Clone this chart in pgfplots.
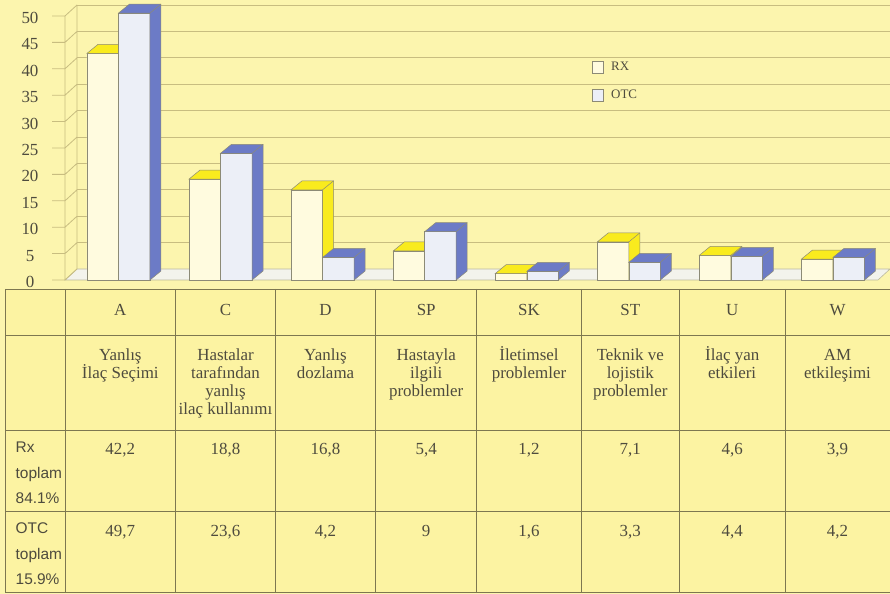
\documentclass[border=0pt]{standalone}
\usepackage{pgfplots}
\pgfplotsset{compat=1.18}
\usepackage{pgfplotstable}
\usepackage{fontspec}
\setmainfont{Liberation Serif}
\newfontfamily\sansf{Liberation Sans}
\definecolor{bg}{HTML}{FCF5AE}
\definecolor{tablebg}{HTML}{FCF3A2}
\definecolor{gridcol}{HTML}{C8BD80}
\definecolor{tline}{HTML}{7D7750}
\definecolor{txt}{HTML}{4E4B3E}
\definecolor{floorcol}{HTML}{F3F3EC}
\definecolor{flooredge}{HTML}{BDBA9C}
\definecolor{rxfront}{HTML}{FFFBDF}
\definecolor{rxside}{HTML}{F9EB1E}
\definecolor{otcfront}{HTML}{ECEFF7}
\definecolor{otcside}{HTML}{6C7BC6}
\definecolor{edgecol}{HTML}{8C8A76}

\pgfplotstableread{
x rx otc
0 42.2 49.7
1 18.8 23.6
2 16.8 4.2
3 5.4 9
4 1.2 1.6
5 7.1 3.3
6 4.6 4.4
7 3.9 4.2
}\data

\pgfplotsset{
  face3d/.style n args={5}{%
    scatter, only marks, mark=*, mark size=0pt,
    mark options={draw=none,fill=none},
    forget plot,
    visualization depends on={\thisrow{#1}\as\barv},
    scatter/@pre marker code/.code={%
      \pgfscope
      \pgfmathsetmacro\hh{\barv*5.37}%
      \pgfmathsetmacro\hb{9-\hh}%
      \pgfmathsetmacro\Rd{#3+11}%
      \pgfmathsetmacro\Ld{#2+11}%
      \pgfsetstrokecolor{edgecol}\pgfsetlinewidth{0.5bp}%
      \pgfsetfillcolor{#5}%
      \pgfpathrectanglecorners{\pgfpoint{#2bp}{0bp}}{\pgfpoint{#3bp}{-\hh bp}}%
      \pgfusepath{fill,stroke}%
      \pgfsetfillcolor{#4}%
      \pgfpathmoveto{\pgfpoint{#2bp}{0bp}}%
      \pgfpathlineto{\pgfpoint{#3bp}{0bp}}%
      \pgfpathlineto{\pgfpoint{#3bp}{-\hh bp}}%
      \pgfpathlineto{\pgfpoint{\Rd bp}{\hb bp}}%
      \pgfpathlineto{\pgfpoint{\Rd bp}{9bp}}%
      \pgfpathlineto{\pgfpoint{\Ld bp}{9bp}}%
      \pgfpathclose
      \pgfusepath{fill,stroke}%
      \pgfpathmoveto{\pgfpoint{#3bp}{0bp}}%
      \pgfpathlineto{\pgfpoint{\Rd bp}{9bp}}%
      \pgfusepath{stroke}%
      \endpgfscope
    },
    scatter/@post marker code/.code={},
  },
  sq legend/.style={legend image code/.code={\draw[##1,/tikz/.cd,line width=0.6bp,draw=edgecol] (0bp,-6bp) rectangle (11bp,6bp);}},
}

\newcommand\tf{\fontsize{17}{18}\selectfont}
\newcommand\rowf{\sansf\fontsize{15.5}{16}\selectfont}

\begin{document}
\begin{tikzpicture}
\path[use as bounding box] (0,0) rectangle (890bp,594bp);
\begin{scope}[x=1bp,y=-1bp,yshift=594bp]
  \fill[bg] (0,0) rectangle (890,594);
  \fill[tablebg] (5,289) rectangle (890,592.5);
\end{scope}

% frame axis: back wall, floor, left wall, ticks
\begin{axis}[
  at={(77bp,325bp)}, anchor=south west,
  x=1bp, y=5.28bp, xmin=0, xmax=813, ymin=0, ymax=50,
  axis line style={draw=none},
  xtick=\empty, ytick={0,5,...,50},
  tick style={draw=none}, major tick length=0pt,
  ymajorgrids, grid style={draw=gridcol, line width=0.8bp},
  /pgf/number format/assume math mode=true,
  yticklabel style={anchor=center, xshift=-47bp, yshift=-13bp, font=\tf, text=txt},
  clip=false, unbounded coords=jump,
]
\addplot[fill=floorcol, draw=flooredge, line width=0.6bp] coordinates {(-12,-2.083) (801,-2.083) (813,0) (0,0)} -- cycle;
\addplot[draw=gridcol, line width=0.8bp] coordinates {
(-25,-2.083) (-12,-2.083) (0,0) (nan,nan)
(-25,2.917) (-12,2.917) (0,5) (nan,nan)
(-25,7.917) (-12,7.917) (0,10) (nan,nan)
(-25,12.917) (-12,12.917) (0,15) (nan,nan)
(-25,17.917) (-12,17.917) (0,20) (nan,nan)
(-25,22.917) (-12,22.917) (0,25) (nan,nan)
(-25,27.917) (-12,27.917) (0,30) (nan,nan)
(-25,32.917) (-12,32.917) (0,35) (nan,nan)
(-25,37.917) (-12,37.917) (0,40) (nan,nan)
(-25,42.917) (-12,42.917) (0,45) (nan,nan)
(-25,47.917) (-12,47.917) (0,50) (nan,nan)
(-12,-2.083) (-12,47.917) (nan,nan)
(0,0) (0,50)
};
\end{axis}

% bars axis
\begin{axis}[
  at={(65bp,314bp)}, anchor=south west,
  x=102.07bp, y=5.37bp, xmin=-0.524, xmax=7.559, ymin=0, ymax=52.14,
  hide axis, clip=false,
  legend style={at={(axis description cs:0.638,0.7857)}, anchor=north west,
    draw=none, fill=none, font=\fontsize{13}{14}\selectfont, text=txt,
    row sep=14bp, column sep=6bp, inner sep=0pt, nodes={inner sep=2bp}},
  legend cell align=left,
]
\addplot[ybar, bar width=31.5bp, bar shift=-15.75bp, fill=rxfront, draw=edgecol, line width=0.5bp, sq legend] table[x=x,y=rx]{\data};
\addlegendentry{RX}
\addplot[face3d={rx}{-31.5}{0}{rxside}{rxfront}] table[x=x,y=rx]{\data};
\addplot[ybar, bar width=31.5bp, bar shift=15.75bp, fill=otcfront, draw=edgecol, line width=0.5bp, sq legend] table[x=x,y=otc]{\data};
\addlegendentry{OTC}
\addplot[face3d={otc}{0}{31.5}{otcside}{otcfront}] table[x=x,y=otc]{\data};
\end{axis}

% table
\begin{scope}[x=1bp,y=-1bp,yshift=594bp]
  \draw[tline, line width=0.9bp] (5,289) -- (890,289);
  \draw[tline, line width=0.9bp] (5,335) -- (890,335);
  \draw[tline, line width=0.9bp] (5,430.7) -- (890,430.7);
  \draw[tline, line width=0.9bp] (5,511.7) -- (890,511.7);
  \draw[tline, line width=0.9bp] (5,592.5) -- (890,592.5);
  \foreach \cx in {5,65,175.7,275.3,375.7,476.7,581.3,679.3,785}
    \draw[tline, line width=0.9bp] (\cx,289) -- (\cx,592.5);
  \tikzset{t/.style={anchor=base, font=\tf, text=txt, inner sep=0pt}}
  % header
  \node[t] at (120.3,315.7) {A};
  \node[t] at (225.5,315.7) {C};
  \node[t] at (325.5,315.7) {D};
  \node[t] at (426.2,315.7) {SP};
  \node[t] at (529,315.7) {SK};
  \node[t] at (630.3,315.7) {ST};
  \node[t] at (732.2,315.7) {U};
  \node[t] at (837.5,315.7) {W};
  % descriptions
  \node[t] at (120.3,360.7) {Yanlış};
  \node[t] at (120.3,378.7) {İlaç Seçimi};
  \node[t] at (225.5,360.7) {Hastalar};
  \node[t] at (225.5,378.7) {tarafından};
  \node[t] at (225.5,396.7) {yanlış};
  \node[t] at (225.5,414.7) {ilaç kullanımı};
  \node[t] at (325.5,360.7) {Yanlış};
  \node[t] at (325.5,378.7) {dozlama};
  \node[t] at (426.2,360.7) {Hastayla};
  \node[t] at (426.2,378.7) {ilgili};
  \node[t] at (426.2,396.7) {problemler};
  \node[t] at (529,360.7) {İletimsel};
  \node[t] at (529,378.7) {problemler};
  \node[t] at (630.3,360.7) {Teknik ve};
  \node[t] at (630.3,378.7) {lojistik};
  \node[t] at (630.3,396.7) {problemler};
  \node[t] at (732.2,360.7) {İlaç yan};
  \node[t] at (732.2,378.7) {etkileri};
  \node[t] at (837.5,360.7) {AM};
  \node[t] at (837.5,378.7) {etkileşimi};
  % row labels
  \tikzset{s/.style={anchor=base west, font=\rowf, text=txt, inner sep=0pt}}
  \node[s] at (15.5,453) {Rx};
  \node[s] at (15.5,478.5) {toplam};
  \node[s] at (15.5,504) {84.1\%};
  \node[s] at (15.5,534) {OTC};
  \node[s] at (15.5,559.5) {toplam};
  \node[s] at (15.5,585) {15.9\%};
  % values
  \node[t] at (120.3,455) {42,2};
  \node[t] at (225.5,455) {18,8};
  \node[t] at (325.5,455) {16,8};
  \node[t] at (426.2,455) {5,4};
  \node[t] at (529,455) {1,2};
  \node[t] at (630.3,455) {7,1};
  \node[t] at (732.2,455) {4,6};
  \node[t] at (837.5,455) {3,9};
  \node[t] at (120.3,537) {49,7};
  \node[t] at (225.5,537) {23,6};
  \node[t] at (325.5,537) {4,2};
  \node[t] at (426.2,537) {9};
  \node[t] at (529,537) {1,6};
  \node[t] at (630.3,537) {3,3};
  \node[t] at (732.2,537) {4,4};
  \node[t] at (837.5,537) {4,2};
\end{scope}
\end{tikzpicture}
\end{document}
